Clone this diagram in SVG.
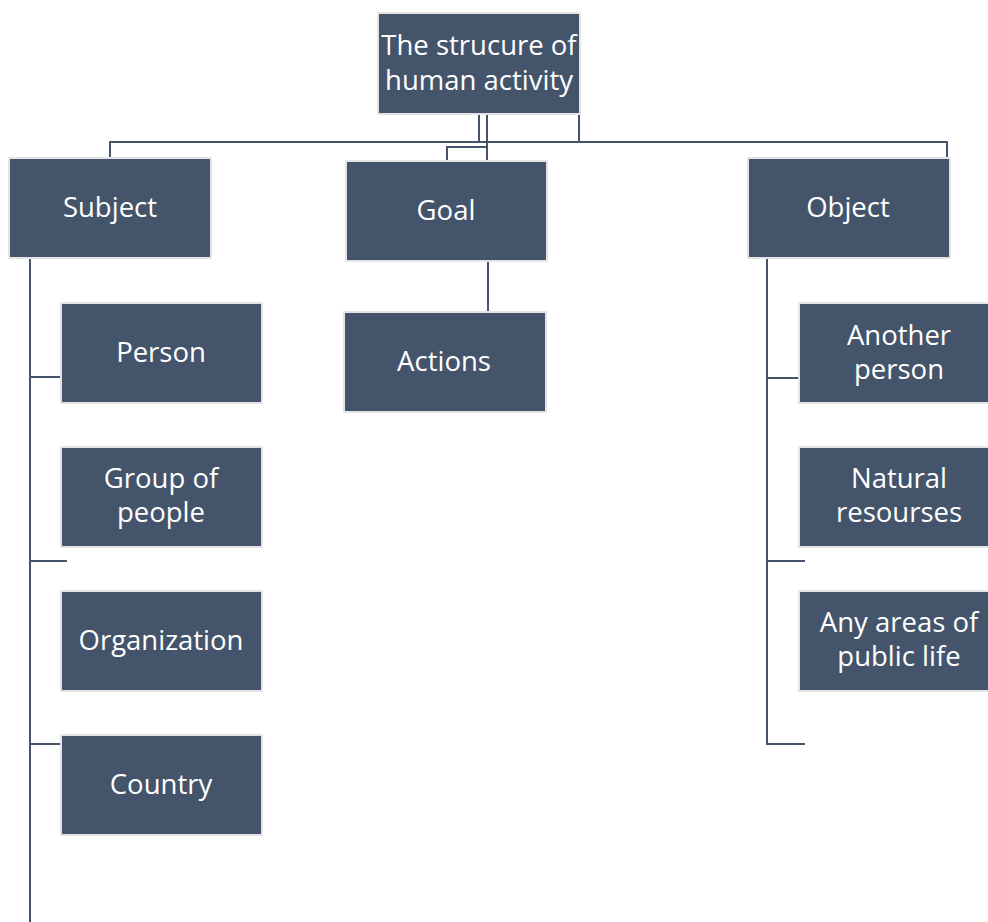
<svg xmlns="http://www.w3.org/2000/svg" width="988" height="922" viewBox="0 0 988 922">
  <style>
    .box { fill: #44546A; stroke: #E4E4E4; stroke-width: 2; }
    .lbl { fill: #FFFFFF; font-family: "Open Sans", "Noto Sans", sans-serif; font-size: 27.5px; text-anchor: middle; dominant-baseline: central; }
    .wire { fill: none; stroke: #44546A; stroke-width: 2; }
  </style>
  <rect width="988" height="922" fill="#FFFFFF"/>

  <!-- connectors -->
  <g id="connectors">
    <path class="wire" d="M479 115 V142 M579 115 V142 M487 115 V160"/>
    <path class="wire" d="M110 158 V142 H947 V158"/>
    <path class="wire" d="M447 160 V147 H487"/>
    <path class="wire" d="M488 262 V311"/>
    <path class="wire" d="M30 258 V922 M30 377 H60 M30 561 H67 M30 744 H60"/>
    <path class="wire" d="M767 258 V744 H805 M767 378 H798 M767 561 H805"/>
  </g>

  <g id="root">
    <rect class="box" x="378" y="13" width="202" height="101"/>
    <text class="lbl" x="479" y="44">The strucure of</text>
    <text class="lbl" x="479" y="79">human activity</text>
  </g>

  <g id="subject">
    <rect class="box" x="9" y="158" width="202" height="100"/>
    <text class="lbl" x="110" y="206">Subject</text>
  </g>
  <g id="goal">
    <rect class="box" x="346" y="161" width="201" height="100"/>
    <text class="lbl" x="446" y="209">Goal</text>
  </g>
  <g id="object">
    <rect class="box" x="748" y="158" width="202" height="100"/>
    <text class="lbl" x="848" y="206">Object</text>
  </g>
  <g id="actions">
    <rect class="box" x="344" y="312" width="202" height="100"/>
    <text class="lbl" x="444" y="360">Actions</text>
  </g>

  <g id="person">
    <rect class="box" x="61" y="303" width="201" height="100"/>
    <text class="lbl" x="161" y="351">Person</text>
  </g>
  <g id="group-of-people">
    <rect class="box" x="61" y="447" width="201" height="100"/>
    <text class="lbl" x="161" y="477">Group of</text>
    <text class="lbl" x="161" y="511">people</text>
  </g>
  <g id="organization">
    <rect class="box" x="61" y="591" width="201" height="100"/>
    <text class="lbl" x="161" y="639">Organization</text>
  </g>
  <g id="country">
    <rect class="box" x="61" y="735" width="201" height="100"/>
    <text class="lbl" x="161" y="783">Country</text>
  </g>

  <g id="another-person">
    <rect class="box" x="799" y="303" width="201" height="100"/>
    <text class="lbl" x="899" y="334">Another</text>
    <text class="lbl" x="899" y="368">person</text>
  </g>
  <g id="natural-resourses">
    <rect class="box" x="799" y="447" width="201" height="100"/>
    <text class="lbl" x="899" y="477">Natural</text>
    <text class="lbl" x="899" y="511">resourses</text>
  </g>
  <g id="public-life">
    <rect class="box" x="799" y="591" width="201" height="100"/>
    <text class="lbl" x="899" y="621">Any areas of</text>
    <text class="lbl" x="899" y="655">public life</text>
  </g>
</svg>
